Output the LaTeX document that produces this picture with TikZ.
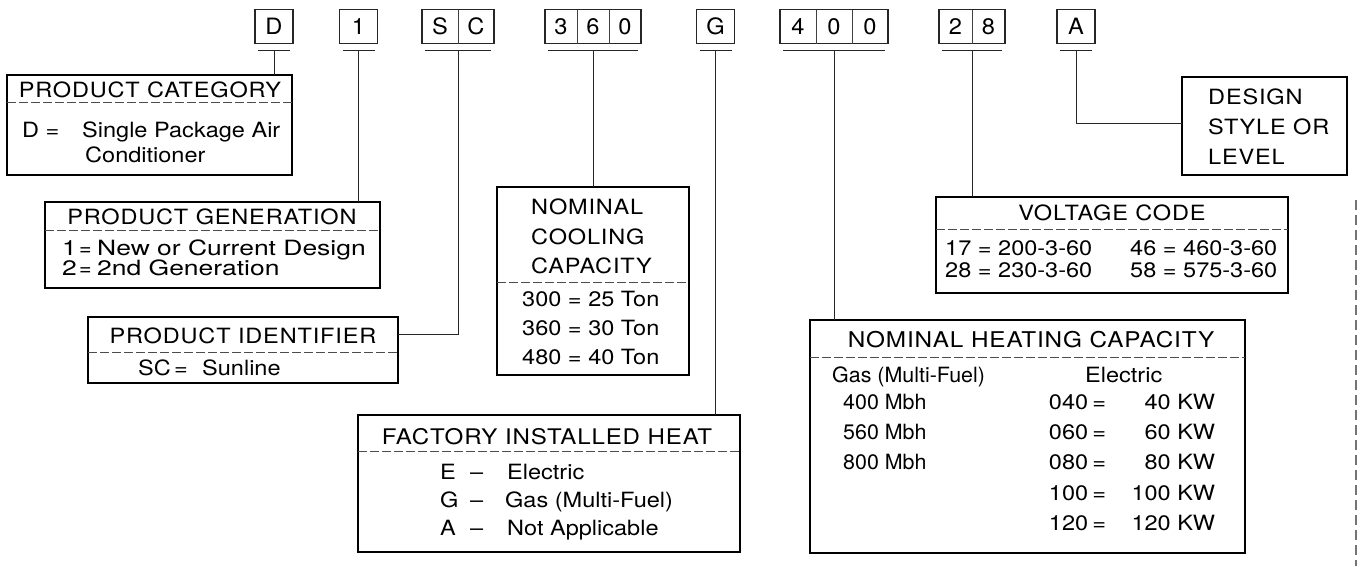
\documentclass[tikz,border=0pt]{standalone}
\usepackage{fontspec}
\setmainfont{TeX Gyre Heros}
\newfontfamily\bodyfont[FakeStretch=1.12]{TeX Gyre Heros}
\newfontfamily\narrowbody[FakeStretch=1.02]{TeX Gyre Heros}
\newfontfamily\widebody[FakeStretch=1.26]{TeX Gyre Heros}
\newfontfamily\headfont[FakeStretch=1.12,LetterSpace=4]{TeX Gyre Heros}
\newfontfamily\codefont[FakeStretch=1.05]{TeX Gyre Heros}
\usetikzlibrary{calc}
\tikzset{
  bigbox/.style={draw=black, line width=1.6pt, anchor=north west, inner sep=0pt, outer sep=0pt},
  codebox/.style={draw=black!85, line width=1.1pt, minimum height=34pt, inner sep=0pt, outer sep=0pt, font=\codefont\fontsize{22.5}{24}\selectfont},
  divline/.style={draw=black!70, line width=0.9pt, dash pattern=on 9pt off 3pt},
  celldiv/.style={draw=black!75, line width=0.9pt},
  conn/.style={draw=black!85, line width=0.9pt},
  head/.style={font=\headfont\fontsize{21}{25}\selectfont, inner sep=0pt, anchor=base},
  body/.style={font=\bodyfont\fontsize{21}{25}\selectfont, inner sep=0pt, anchor=base west},
  widetext/.style={body, font=\widebody\fontsize{21}{25}\selectfont},
  narrowtext/.style={body, font=\narrowbody\fontsize{21}{25}\selectfont},
  edge line/.style={draw=black!55, line width=1.2pt, dash pattern=on 10pt off 5pt},
}
\begin{document}
\begin{tikzpicture}[x=1pt,y=-1pt]
\useasboundingbox (0,0) rectangle (1360,566);

% ---------- code boxes ----------
\node[codebox, minimum width=38pt] (cD) at (274,26.5) {D};
\node[codebox, minimum width=38pt] (c1) at (358.5,26.5) {1};
\node[codebox, minimum width=72pt] (cSC) at (458,26.5) {\makebox[36pt]{S}\makebox[36pt]{C}};
\node[codebox, minimum width=96pt] (c360) at (593,26.5) {\makebox[32pt]{3}\makebox[32pt]{6}\makebox[32pt]{0}};
\node[codebox, minimum width=38pt] (cG) at (715.5,26.5) {G};
\node[codebox, minimum width=108pt] (c400) at (834,26.5) {\makebox[36pt]{4}\makebox[36pt]{0}\makebox[36pt]{0}};
\node[codebox, minimum width=66pt] (c28) at (972,26.5) {\makebox[33pt]{2}\makebox[33pt]{8}};
\node[codebox, minimum width=38pt] (cA) at (1076,26.5) {A};

\draw[celldiv] ($(cSC.north west)+(36,0)$) -- ($(cSC.south west)+(36,0)$);
\draw[celldiv] ($(c360.north west)+(32,0)$) -- ($(c360.south west)+(32,0)$);
\draw[celldiv] ($(c360.north west)+(64,0)$) -- ($(c360.south west)+(64,0)$);
\draw[celldiv] ($(c400.north west)+(36,0)$) -- ($(c400.south west)+(36,0)$);
\draw[celldiv] ($(c400.north west)+(72,0)$) -- ($(c400.south west)+(72,0)$);
\draw[celldiv] ($(c28.north west)+(33,0)$) -- ($(c28.south west)+(33,0)$);

% ---------- description boxes ----------
\node[bigbox, minimum width=285pt, minimum height=100pt] (catbox) at (7,75) {};
\draw[divline] (catbox.west |- 0,102) -- (catbox.east |- 0,102);
\node[head] (catT) at (150,97) {PRODUCT CATEGORY};
\node[body] (catD) at (22,137.5) {D =};
\node[body] (catS) at (82,137.5) {Single Package Air};
\node[body] (catC) at (85,162.5) {Conditioner};

\node[bigbox, minimum width=335pt, minimum height=86pt] (genbox) at (45,202) {};
\draw[divline] (genbox.west |- 0,230) -- (genbox.east |- 0,230);
\node[head] (genT) at (212,224.5) {PRODUCT GENERATION};
\node[widetext] (gen1) at (62,255.5) {\makebox[17pt][l]{1}\makebox[18pt][l]{\narrowbody =}New or Current Design};
\node[widetext] (gen2) at (62,275.5) {\makebox[17pt][l]{2}\makebox[18pt][l]{\narrowbody =}2nd Generation};

\node[bigbox, minimum width=310pt, minimum height=66pt] (idbox) at (88,317) {};
\draw[divline] (idbox.west |- 0,352) -- (idbox.east |- 0,352);
\node[head] (idT) at (243,343.5) {PRODUCT IDENTIFIER};
\node[body] (idL) at (138,375.5) {\makebox[36pt][l]{SC}\makebox[28pt][l]{=}Sunline};

\node[bigbox, minimum width=192pt, minimum height=188pt] (coolbox) at (497,187) {};
\draw[divline] (coolbox.west |- 0,282) -- (coolbox.east |- 0,282);
\node[head, anchor=base west] (coolT1) at (531,214.5) {NOMINAL};
\node[head, anchor=base west] (coolT2) at (531,244.5) {COOLING};
\node[head, anchor=base west] (coolT3) at (531,273.5) {CAPACITY};
\node[body] (cool1) at (522,306.5) {300 = 25 Ton};
\node[body] (cool2) at (522,335.5) {360 = 30 Ton};
\node[body] (cool3) at (522,364.5) {480 = 40 Ton};

\node[bigbox, minimum width=382pt, minimum height=137pt] (heatbox) at (358,415) {};
\draw[divline] (heatbox.west |- 0,451) -- (heatbox.east |- 0,451);
\node[head, font=\headfont\fontsize{21.5}{25}\selectfont] (heatT) at (547,444.5) {FACTORY INSTALLED HEAT};
\node[body] (heatE) at (440,479.5) {\makebox[30pt][l]{E}\makebox[37pt][l]{–}Electric};
\node[body] (heatG) at (440,507.5) {\makebox[30pt][l]{G}\makebox[35pt][l]{–}Gas (Multi-Fuel)};
\node[body] (heatA) at (440,535.5) {\makebox[30pt][l]{A}\makebox[37pt][l]{–}Not Applicable};

\node[bigbox, minimum width=352pt, minimum height=96pt] (voltbox) at (936,197) {};
\draw[divline] (voltbox.west |- 0,229) -- (voltbox.east |- 0,229);
\node[head] (voltT) at (1112,220.5) {VOLTAGE CODE};
\node[body] (v17) at (945,255.5) {17 = 200-3-60};
\node[body] (v46) at (1130,255.5) {46 = 460-3-60};
\node[body] (v28) at (945,277.5) {28 = 230-3-60};
\node[body] (v58) at (1130,277.5) {58 = 575-3-60};

\node[bigbox, minimum width=165pt, minimum height=98pt] (desbox) at (1182,77) {};
\node[head, anchor=base west] (des1) at (1208,104.5) {DESIGN};
\node[head, anchor=base west] (des2) at (1208,134.5) {STYLE OR};
\node[head, anchor=base west] (des3) at (1208,164.5) {LEVEL};

\node[bigbox, minimum width=435pt, minimum height=233pt] (hcbox) at (810,320) {};
\draw[divline] (hcbox.west |- 0,357) -- (hcbox.east |- 0,357);
\node[head, font=\headfont\fontsize{21.7}{25}\selectfont] (hcT) at (1031,347.5) {NOMINAL HEATING CAPACITY};
\node[narrowtext] (hcGas) at (832,382.5) {Gas (Multi-Fuel)};
\node[body] (hcEl) at (1085,382.5) {Electric};
\node[narrowtext] (hc400) at (843,409.5) {400 Mbh};
\node[narrowtext] (hc560) at (843,439.5) {560 Mbh};
\node[narrowtext] (hc800) at (843,469.5) {800 Mbh};
\node[body] (hcE1) at (1048,409.5) {\makebox[40pt][r]{040}\makebox[22pt]{=}\makebox[105pt][r]{40 KW}};
\node[body] (hcE2) at (1048,439.5) {\makebox[40pt][r]{060}\makebox[22pt]{=}\makebox[105pt][r]{60 KW}};
\node[body] (hcE3) at (1048,469.5) {\makebox[40pt][r]{080}\makebox[22pt]{=}\makebox[105pt][r]{80 KW}};
\node[body] (hcE4) at (1048,500.5) {\makebox[40pt][r]{100}\makebox[22pt]{=}\makebox[105pt][r]{100 KW}};
\node[body] (hcE5) at (1048,530.5) {\makebox[40pt][r]{120}\makebox[22pt]{=}\makebox[105pt][r]{120 KW}};

% ---------- brackets and connectors ----------
\foreach \c in {cD,c1,cSC,c360,cG,c400,c28,cA}{
  \draw[conn] ($(\c.south west)+(3,7)$) -- ($(\c.south east)+(-3,7)$);
}
\draw[conn] ($(cD.south)+(0,7)$) -- (cD.south |- catbox.north);
\draw[conn] ($(c1.south)+(0,7)$) -- (c1.south |- genbox.north);
\draw[conn] ($(cSC.south)+(0,7)$) |- ($(idbox.north east)+(0,17)$);
\draw[conn] ($(c360.south)+(0,7)$) -- (c360.south |- coolbox.north);
\draw[conn] ($(cG.south)+(0,7)$) -- (cG.south |- heatbox.north);
\draw[conn] ($(c400.south)+(0,7)$) -- (c400.south |- hcbox.north);
\draw[conn] ($(c28.south)+(0,7)$) -- (c28.south |- voltbox.north);
\draw[conn] ($(cA.south)+(0,7)$) |- ($(desbox.north west)+(0,46)$);

% scan edge at right
\draw[edge line] (1356,200) -- (1356,566);
\end{tikzpicture}
\end{document}
